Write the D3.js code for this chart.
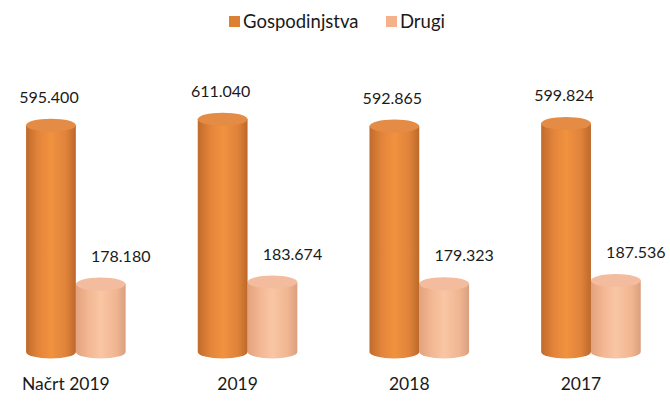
<!DOCTYPE html>
<html>
<head>
<meta charset="utf-8">
<script src="https://cdn.jsdelivr.net/npm/d3@7"></script>
<style>
  html, body { margin: 0; padding: 0; background: #fff; }
  svg { display: block; }
  text { font-family: Lato, "Open Sans", sans-serif; fill: #1a1a1a; }
</style>
</head>
<body>
<svg id="chart" width="670" height="401"></svg>
<script>
// Categories and series values
const categories = ["Načrt 2019", "2019", "2018", "2017"];
const seriesNames = ["Gospodinjstva", "Drugi"];
const gospodinjstva = [595.400, 611.040, 592.865, 599.824];
const drugi = [178.180, 183.674, 179.323, 187.536];
const valueLabels = {
  Gospodinjstva: ["595.400", "611.040", "592.865", "599.824"],
  Drugi: ["178.180", "183.674", "179.323", "187.536"]
};

const svg = d3.select("#chart");

const seriesValues = { Gospodinjstva: gospodinjstva, Drugi: drugi };
const palette = {
  Gospodinjstva: { swatch: "#DE8034", side: ["#C06B2C", "#E3843A", "#F1923F", "#E0833A", "#BC682B"], top: "#E48B45" },
  Drugi: { swatch: "#F5B28A", side: ["#E3A27E", "#F3B793", "#F9C6A4", "#F1B692", "#DA9F7E"], top: "#F3BC9E" }
};

// Scales
const y = d3.scaleLinear().domain([0, 700]).range([352, 352 - 700 * 0.381]);
const x = d3.scaleBand().domain(categories).range([-10, 676.8]).paddingInner(0.42).paddingOuter(0.21);
const xs = d3.scaleBand().domain(seriesNames).range([0, x.bandwidth()]);

const defs = svg.append("defs");
// Cylinder shading gradients
seriesNames.forEach((s, i) => {
  const g = defs.append("linearGradient").attr("id", "grad" + i)
    .attr("x1", "0%").attr("x2", "100%").attr("y1", "0%").attr("y2", "0%");
  const stops = [0, 0.25, 0.5, 0.8, 1];
  palette[s].side.forEach((c, k) => g.append("stop").attr("offset", stops[k]).attr("stop-color", c));
});
// Slight softening of the cylinder edges
defs.append("filter").attr("id", "soft").attr("x", "-10%").attr("y", "-5%").attr("width", "120%").attr("height", "110%")
  .append("feGaussianBlur").attr("stdDeviation", 0.7);

// Legend
const legend = svg.append("g").attr("class", "legend");
const legendItems = [{ name: "Gospodinjstva", x: 229 }, { name: "Drugi", x: 386 }];
legendItems.forEach(it => {
  legend.append("rect").attr("x", it.x).attr("y", 16).attr("width", 11).attr("height", 11)
    .attr("fill", palette[it.name].swatch);
  legend.append("text").attr("x", it.x + 14).attr("y", 28).attr("font-size", 18.5).text(it.name);
});

// Cylinders
const ry = 6.5;
const plot = svg.append("g").attr("filter", "url(#soft)");
const labels = svg.append("g");
categories.forEach((cat, ci) => {
  // the shorter cylinder is drawn first so the taller one overlaps its edge
  [...seriesNames].reverse().forEach(s => {
    const si = seriesNames.indexOf(s);
    const v = seriesValues[s][ci];
    const x0 = x(cat) + xs(s);
    const w = xs.bandwidth();
    const rx = w / 2;
    const cx = x0 + rx;
    const yt = y(v), yb = y(0);
    const g = plot.append("g");
    g.append("path")
      .attr("d", `M${x0},${yt} L${x0},${yb} A${rx},${ry} 0 0 0 ${x0 + w},${yb} L${x0 + w},${yt} Z`)
      .attr("fill", `url(#grad${si})`);
    g.append("ellipse").attr("cx", cx).attr("cy", yt).attr("rx", rx).attr("ry", ry)
      .attr("fill", palette[s].top);
    // value label
    const lx = s === "Drugi" ? cx + 20 : cx - 2;
    labels.append("text").attr("x", lx).attr("y", yt - ry - 16)
      .attr("text-anchor", "middle").attr("font-size", 16)
      .text(valueLabels[s][ci]);
  });
});

// Category labels
const labelG = svg.append("g");
categories.forEach(cat => {
  const cx = x(cat) + x.bandwidth() / 2 - 10;
  labelG.append("text").attr("x", cx).attr("y", 390).attr("text-anchor", "middle")
    .attr("font-size", 17.5).text(cat);
});
</script>
</body>
</html>
